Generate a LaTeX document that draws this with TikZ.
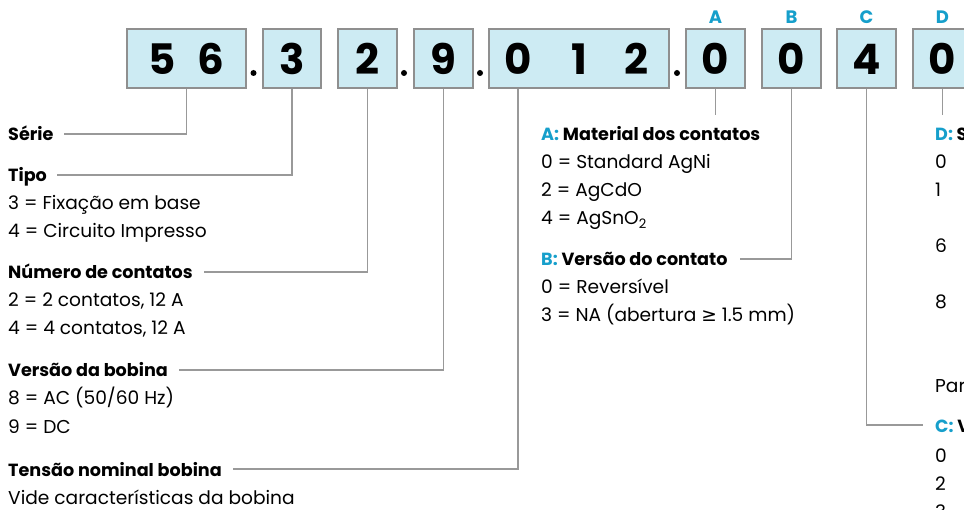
\documentclass[tikz,border=0pt]{standalone}
\usepackage{fontspec}
\setmainfont{Poppins}
\newfontfamily\dejavu{DejaVu Sans}
\definecolor{cy}{HTML}{169FCB}
\definecolor{boxfill}{HTML}{CDEBF3}
\definecolor{boxline}{HTML}{8F8F8F}
\definecolor{connline}{HTML}{999999}
\begin{document}
\begin{tikzpicture}[x=1pt,y=-1pt,
 box/.style={draw=boxline, fill=boxfill, line width=1.2pt, minimum height=59pt, inner sep=0pt},
 dig/.style={anchor=base, inner sep=0pt, font=\fontsize{42}{42}\selectfont\bfseries},
 head/.style={anchor=base west, inner sep=0pt, font=\fontsize{17.6}{20}\selectfont\bfseries},
 body/.style={anchor=base west, inner sep=0pt, font=\fontsize{18.6}{20}\selectfont},
 lett/.style={anchor=base, inner sep=0pt, text=cy, font=\fontsize{18}{18}\selectfont\bfseries},
 conn/.style={draw=connline, line width=1.1pt},
 dotn/.style={circle, fill=black, inner sep=0pt, minimum size=6pt}]
\useasboundingbox (0,0) rectangle (964,510);
\begin{scope}
\clip (0,0) rectangle (964,510);
% boxes
\node[box, minimum width=119pt] (b56) at (186.5,58.5) {};
\node[box, minimum width=58pt] (b3) at (292,58.5) {};
\node[box, minimum width=59pt] (b2) at (367.5,58.5) {};
\node[box, minimum width=59pt] (b9) at (443.5,58.5) {};
\node[box, minimum width=180pt] (b012) at (579,58.5) {};
\node[box, minimum width=59pt] (bA) at (715.5,58.5) {};
\node[box, minimum width=59pt] (bB) at (791.5,58.5) {};
\node[box, minimum width=59pt] (bC) at (866.5,58.5) {};
\node[box, minimum width=59pt] (bD) at (942.5,58.5) {};
% digits
\node[dig] (d5) at (162,75) {5};
\node[dig] (d6) at (211,75) {6};
\node[dig] (d3) at (292,75) {3};
\node[dig] (d2) at (367.5,75) {2};
\node[dig] (d9) at (443.5,75) {9};
\node[dig] (d0a) at (518,75) {0};
\node[dig] (d1) at (579,75) {1};
\node[dig] (d2b) at (636,75) {2};
\node[dig] (dA) at (715.5,75) {0};
\node[dig] (dB) at (791.5,75) {0};
\node[dig] (dC) at (866.5,75) {4};
\node[dig] (dD) at (942.5,75) {0};
% dots
\node[dotn] (p1) at (253.5,73) {};
\node[dotn] (p2) at (404,73) {};
\node[dotn] (p3) at (480,73) {};
\node[dotn] (p4) at (677,73) {};
% letters
\node[lett] (lA) at (715.5,24) {A};
\node[lett] (lB) at (791.5,24) {B};
\node[lett] (lC) at (866.5,24) {C};
\node[lett] (lD) at (942.5,24) {D};
% left column
\node[head] (serie) at (8,141) {Série};
\node[head] (tipo) at (8,182) {Tipo};
\node[body] (t3) at (8,210) {3 = Fixação em base};
\node[body] (t4) at (8,238) {4 = Circuito Impresso};
\node[head] (num) at (8,279) {Número de contatos};
\node[body] (n2) at (8,307) {2 = 2 contatos, 12 A};
\node[body] (n4) at (8,335) {4 = 4 contatos, 12 A};
\node[head] (vers) at (8,377) {Versão da bobina};
\node[body] (v8) at (8,405) {8 = AC (50/60 Hz)};
\node[body] (v9) at (8,433) {9 = DC};
\node[head] (tens) at (8,476) {Tensão nominal bobina};
\node[body] (vide) at (8,504) {Vide características da bobina};
% middle column
\node[head] (hA) at (541,141) {\textcolor{cy}{A:} Material dos contatos};
\node[body] (a0) at (541,169) {0 = Standard AgNi};
\node[body] (a2) at (541,197) {2 = AgCdO};
\node[body] (a4) at (541,225) {4 = AgSnO\textsubscript{2}};
\node[head] (hB) at (541,266) {\textcolor{cy}{B:} Versão do contato};
\node[body] (b0) at (541,294) {0 = Reversível};
\node[body] (b3t) at (541,322) {3 = NA (abertura {\dejavu ≥} 1.5 mm)};
% right column (cut off)
\node[head] (hD) at (935,141) {\textcolor{cy}{D:} S};
\node[body] (r0) at (935,169) {0};
\node[body] (r1) at (935,197) {1};
\node[body] (r6) at (935,253) {6};
\node[body] (r8) at (935,309) {8};
\node[body] (rpar) at (935,393) {Par};
\node[head] (hC) at (935,432) {\textcolor{cy}{C:} V};
\node[body] (c0) at (935,462) {0};
\node[body] (c2) at (935,490) {2};
\node[body] (c3) at (935,518) {3};
% connectors
\coordinate (endA) at (715.5,115);
\coordinate (endD) at (942.5,115);
\draw[conn] (b56.south) |- ([xshift=10pt,yshift=7pt]serie.base east);
\draw[conn] (b3.south) |- ([xshift=10pt,yshift=7pt]tipo.base east);
\draw[conn] (b2.south) |- ([xshift=11pt,yshift=7pt]num.base east);
\draw[conn] (b9.south) |- ([xshift=11pt,yshift=7pt]vers.base east);
\draw[conn] (d0a |- b012.south) |- ([xshift=11pt,yshift=7pt]tens.base east);
\draw[conn] (bA.south) -- (endA);
\draw[conn] (bB.south) |- ([xshift=12pt,yshift=7pt]hB.base east);
\draw[conn] (bC.south) |- ([xshift=-12pt,yshift=7pt]hC.base west);
\draw[conn] (bD.south) -- (endD);
\end{scope}
\end{tikzpicture}
\end{document}
